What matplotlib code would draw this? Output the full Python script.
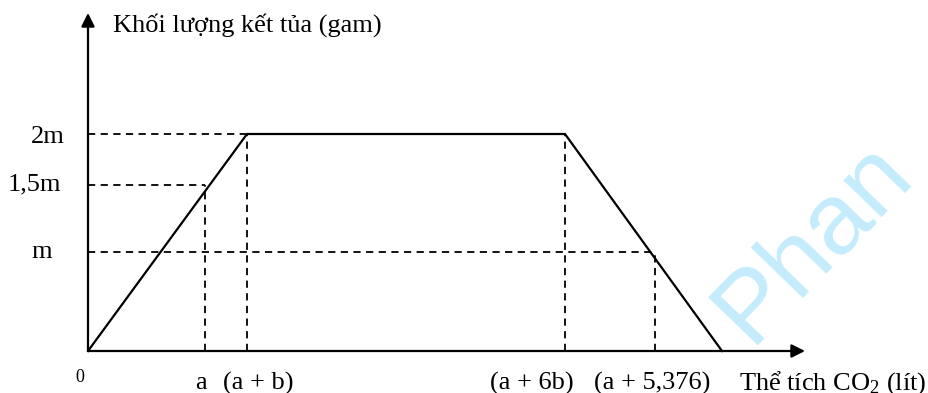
import matplotlib
matplotlib.use("Agg")
import matplotlib.pyplot as plt

plt.rcParams['font.family'] = ['Liberation Serif', 'DejaVu Serif']
plt.rcParams['mathtext.default'] = 'regular'

# break points of the precipitate curve: 0, (a+b), (a+6b), end
curve_x = [0, 159, 477, 634]
curve_y = [0, 217, 217, 0]

# y levels and where their dashed guides stop
y_names = ['2m', '1,5m', 'm']
y_vals = [217, 166, 99]
y_stop = [159, 117, 567]
y_lab_x = [-40, -54, -46]
y_lab_off = [-3, 1, 0]

# x marks and the height of their dashed guides
x_names = ['a', '(a + b)', '(a + 6b)', '(a + 5,376)']
x_vals = [117, 159, 477, 567]
x_tops = [166, 217, 217, 99]
x_lab_x = [113, 170, 444, 564]

fig = plt.figure(figsize=(9.29, 3.93), dpi=100)
ax = fig.add_axes([0, 0, 1, 1])
ax.set_xlim(-88, 841)
ax.set_ylim(-42, 351)
ax.axis('off')

# watermark
ax.text(662, 6, 'Phan', family='Liberation Sans', fontsize=73, color='#c4ecfc',
        rotation=46, ha='left', va='baseline', rotation_mode='anchor', zorder=0)

# axes with arrows
arr = dict(arrowstyle='-|>', lw=1.6, color='k', mutation_scale=20,
           shrinkA=0, shrinkB=0)
ax.annotate('', xy=(0, 338), xytext=(0, 0), arrowprops=arr, zorder=3)
ax.annotate('', xy=(717, 0), xytext=(0, 0), arrowprops=arr, zorder=3)

# dashed guides
for yv, xs in zip(y_vals, y_stop):
    ax.plot([0, xs], [yv, yv], color='k', lw=1.3, dashes=(4, 3), zorder=2)
for xv, yt in zip(x_vals, x_tops):
    ax.plot([xv, xv], [0, yt], color='k', lw=1.3, dashes=(4, 3), zorder=2)

ax.plot(curve_x, curve_y, color='k', lw=1.6, zorder=3, solid_joinstyle='miter')

# labels
for name, yv, lx, off in zip(y_names, y_vals, y_lab_x, y_lab_off):
    ax.text(lx, yv + off, name, fontsize=19, ha='center', va='center')
for name, lx in zip(x_names, x_lab_x):
    ax.text(lx, -32, name, fontsize=19, ha='center', va='center')
ax.text(-8, -27, '0', fontsize=13, ha='center', va='center')
ax.text(25, 326, 'Khối lượng kết tủa (gam)', fontsize=19, ha='left', va='center')
ax.text(651, -32, 'Thể tích CO$_2$ (lít)', fontsize=19, ha='left', va='center')

fig.savefig('out.png', dpi=100)
